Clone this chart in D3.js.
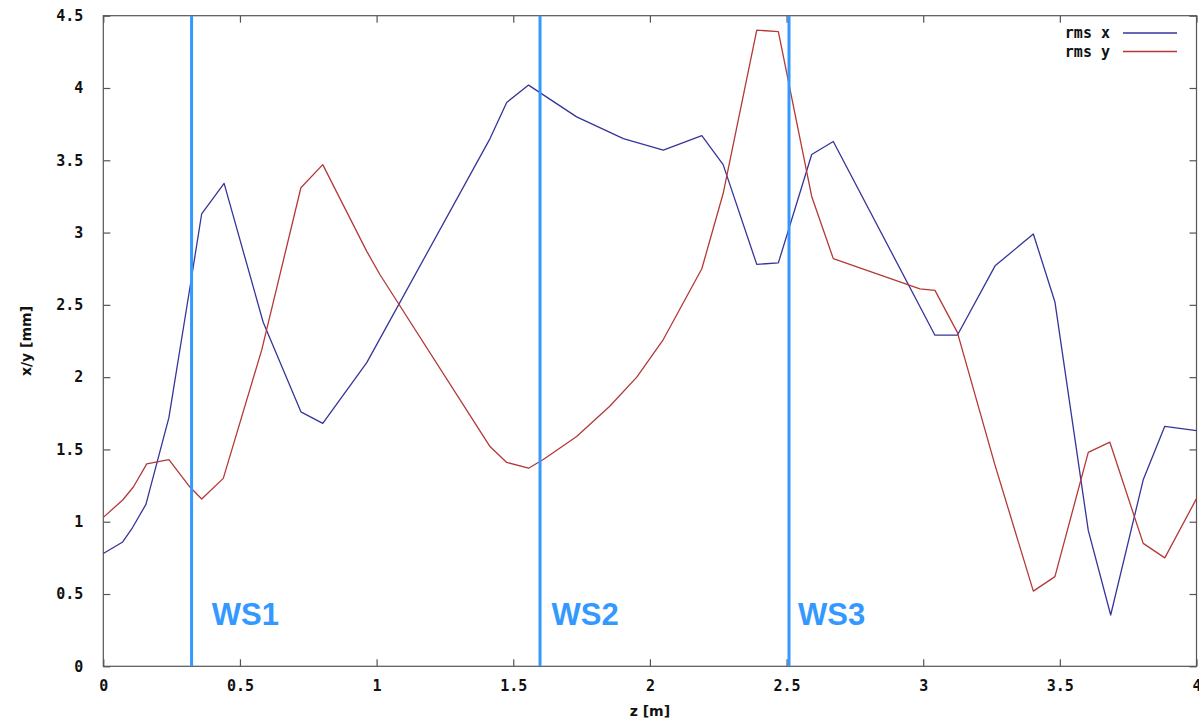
<!DOCTYPE html>
<html>
<head>
<meta charset="utf-8">
<script src="https://cdn.jsdelivr.net/npm/d3@7"></script>
<style>
  html, body { margin: 0; padding: 0; background: #ffffff; }
  svg { display: block; }
</style>
</head>
<body>
<svg id="chart" width="1199" height="723"></svg>
<script>
// ---- data ----
const zX = [0, 0.071, 0.104, 0.156, 0.24, 0.317, 0.36, 0.442, 0.585, 0.723, 0.803, 0.964, 1.415, 1.476, 1.556, 1.732, 1.903, 2.049, 2.19, 2.268, 2.391, 2.47, 2.592, 2.671, 3.043, 3.125, 3.263, 3.403, 3.482, 3.604, 3.686, 3.805, 3.884, 4.0];
const rmsX = [0.78, 0.86, 0.95, 1.12, 1.72, 2.62, 3.13, 3.34, 2.38, 1.76, 1.68, 2.10, 3.65, 3.90, 4.02, 3.80, 3.65, 3.57, 3.67, 3.47, 2.78, 2.79, 3.54, 3.63, 2.29, 2.29, 2.77, 2.99, 2.52, 0.94, 0.355, 1.29, 1.66, 1.63];
const zY = [0, 0.071, 0.11, 0.159, 0.24, 0.317, 0.36, 0.439, 0.58, 0.723, 0.803, 0.964, 1.012, 1.415, 1.476, 1.556, 1.61, 1.732, 1.854, 1.952, 2.049, 2.19, 2.268, 2.391, 2.47, 2.592, 2.671, 2.988, 3.043, 3.125, 3.263, 3.403, 3.482, 3.604, 3.683, 3.805, 3.884, 4.0];
const rmsY = [1.03, 1.15, 1.24, 1.40, 1.43, 1.24, 1.157, 1.30, 2.19, 3.31, 3.47, 2.87, 2.71, 1.52, 1.41, 1.37, 1.43, 1.59, 1.80, 2.00, 2.26, 2.75, 3.27, 4.40, 4.39, 3.25, 2.82, 2.61, 2.60, 2.31, 1.39, 0.52, 0.62, 1.48, 1.55, 0.85, 0.75, 1.16];
const wsNames = ["WS1", "WS2", "WS3"];
const wsZ = [0.323, 1.598, 2.509];
const wsLabelZ = [0.397, 1.640, 2.542];
const xTicks = [0, 0.5, 1, 1.5, 2, 2.5, 3, 3.5, 4];
const yTicks = [0, 0.5, 1, 1.5, 2, 2.5, 3, 3.5, 4, 4.5];
const seriesNames = ["rms x", "rms y"];
const seriesColors = ["#35359a", "#b53838"];

// ---- layout ----
const L = 103.3, R = 1196.5, T = 15.7, B = 666.3;
const svg = d3.select("#chart");
const x = d3.scaleLinear().domain([0, 4]).range([L, R]);
const y = d3.scaleLinear().domain([0, 4.5]).range([B, T]);
const fmt = d => (d === 0 ? "0" : String(d));
const tickFont = "'DejaVu Sans Mono', monospace";

// frame
svg.append("rect").attr("x", L).attr("y", T).attr("width", R - L).attr("height", B - T)
  .attr("fill", "none").attr("stroke", "#555").attr("stroke-width", 1.2);

// axes with inward ticks
const axB = svg.append("g").attr("transform", `translate(0,${B})`)
  .call(d3.axisBottom(x).tickValues(xTicks).tickSizeInner(-7).tickSizeOuter(0).tickPadding(14).tickFormat(fmt));
const axT = svg.append("g").attr("transform", `translate(0,${T})`)
  .call(d3.axisTop(x).tickValues(xTicks).tickSizeInner(-7).tickSizeOuter(0).tickFormat(""));
const axL = svg.append("g").attr("transform", `translate(${L},0)`)
  .call(d3.axisLeft(y).tickValues(yTicks).tickSizeInner(-7).tickSizeOuter(0).tickPadding(20).tickFormat(fmt));
const axR = svg.append("g").attr("transform", `translate(${R},0)`)
  .call(d3.axisRight(y).tickValues(yTicks).tickSizeInner(-7).tickSizeOuter(0).tickFormat(""));
[axB, axT, axL, axR].forEach(g => {
  g.select(".domain").remove();
  g.selectAll(".tick line").attr("stroke", "#555").attr("stroke-width", 1.2);
  g.selectAll(".tick text").attr("fill", "#111").attr("font-family", tickFont)
    .attr("font-weight", "bold").attr("font-size", 15);
});

// axis titles
svg.append("text").attr("x", (L + R) / 2).attr("y", 716).attr("text-anchor", "middle")
  .attr("font-family", "'DejaVu Sans', sans-serif").attr("font-weight", "bold").attr("font-size", 14)
  .attr("fill", "#111").text("z [m]");
svg.append("text").attr("transform", `translate(31,${(T + B) / 2}) rotate(-90)`).attr("text-anchor", "middle")
  .attr("font-family", "'DejaVu Sans', sans-serif").attr("font-weight", "bold").attr("font-size", 14)
  .attr("fill", "#111").text("x/y [mm]");

// series lines
const line = d3.line().x(d => x(d[0])).y(d => y(d[1]));
const seriesData = [zX.map((z, i) => [z, rmsX[i]]), zY.map((z, i) => [z, rmsY[i]])];
seriesData.forEach((d, i) => {
  svg.append("path").datum(d).attr("d", line).attr("fill", "none")
    .attr("stroke", seriesColors[i]).attr("stroke-width", 1.3).attr("stroke-linejoin", "round");
});

// wire scanner lines and labels
wsZ.forEach((z, i) => {
  svg.append("line").attr("x1", x(z)).attr("x2", x(z)).attr("y1", T).attr("y2", B)
    .attr("stroke", "#3399ff").attr("stroke-width", 3);
  svg.append("text").attr("x", x(wsLabelZ[i])).attr("y", 625)
    .attr("font-family", "'Liberation Sans', Arial, sans-serif").attr("font-weight", "bold")
    .attr("font-size", 31).attr("fill", "#3399ff").text(wsNames[i]);
});

// legend
seriesNames.forEach((n, i) => {
  const ly = 33 + i * 18.5;
  svg.append("text").attr("x", 1110).attr("y", ly + 5).attr("text-anchor", "end")
    .attr("font-family", tickFont).attr("font-weight", "bold").attr("font-size", 15)
    .attr("fill", "#111").text(n);
  svg.append("line").attr("x1", 1123).attr("x2", 1177).attr("y1", ly).attr("y2", ly)
    .attr("stroke", seriesColors[i]).attr("stroke-width", 1.3);
});
</script>
</body>
</html>
